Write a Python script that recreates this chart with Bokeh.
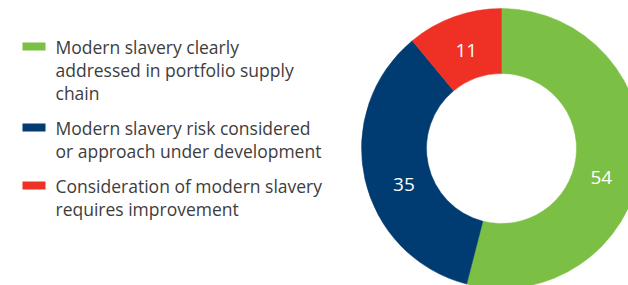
import math
from bokeh.plotting import figure
from bokeh.models import Range1d, ColumnDataSource
from bokeh.core.properties import value
from bokeh.embed import file_html
from bokeh.resources import INLINE

# ---- data ----
categories = [
    "Modern slavery clearly addressed in portfolio supply chain",
    "Modern slavery risk considered or approach under development",
    "Consideration of modern slavery requires improvement",
]
legend_lines = [
    ["Modern slavery clearly", "addressed in portfolio supply", "chain"],
    ["Modern slavery risk considered", "or approach under development"],
    ["Consideration of modern slavery", "requires improvement"],
]
values = [54, 35, 11]
colors = ["#7BBF44", "#003C71", "#EE3124"]

# ---- layout ----
W, H = 628, 285
CX, CY = 501, 148          # donut centre in page pixels
R_OUT, R_IN = 140, 75
LABEL_R = 104
LABEL_ANGLE_SHIFT = [9, -7.6, 0]   # clockwise nudge of value labels (deg)
FONT = "Open Sans"
TEXT_COLOR = "#3d3d3d"

p = figure(width=W, height=H, output_backend="svg", toolbar_location=None,
           x_range=Range1d(0 - CX, W - CX), y_range=Range1d(CY - H, CY - 0),
           min_border=0)
p.axis.visible = False
p.grid.visible = False
p.outline_line_color = None
p.background_fill_color = "white"
p.border_fill_color = "white"

total = float(sum(values))
starts, ends, lx, ly = [], [], [], []
cum = 0.0
for v, shift in zip(values, LABEL_ANGLE_SHIFT):
    c0 = cum / total
    cum += v
    c1 = cum / total
    starts.append(90 - c1 * 360)
    ends.append(90 - c0 * 360)
    mid = math.radians(90 - (c0 + c1) / 2 * 360 - shift)
    lx.append(LABEL_R * math.cos(mid))
    ly.append(LABEL_R * math.sin(mid))

src = ColumnDataSource(dict(start=starts, end=ends, color=colors,
                            lx=lx, ly=ly, lab=[str(v) for v in values]))
p.annular_wedge(x=0, y=0, inner_radius=R_IN, outer_radius=R_OUT,
                start_angle="start", end_angle="end", start_angle_units="deg",
                end_angle_units="deg", fill_color="color", line_color="color",
                line_width=0.5, source=src)
p.text(x="lx", y="ly", text="lab", source=src, text_color="white",
       text_font=value(FONT), text_font_size="19px", text_align="center",
       text_baseline="middle")

# ---- legend ----
sw_x = 33.5 - CX
text_x = 55 - CX
top_y = 46
line_h = 23
gap = 12
y = top_y
for lines, col in zip(legend_lines, colors):
    p.rect(x=sw_x, y=CY - y, width=23, height=8, fill_color=col, line_color=None)
    for i, ln in enumerate(lines):
        p.text(x=text_x, y=CY - (y + i * line_h), text=[ln],
               text_color=TEXT_COLOR, text_font=value(FONT),
               text_font_size="17.5px", text_align="left",
               text_baseline="middle")
    y += len(lines) * line_h + gap

open("out.html", "w").write(file_html(p, INLINE))
